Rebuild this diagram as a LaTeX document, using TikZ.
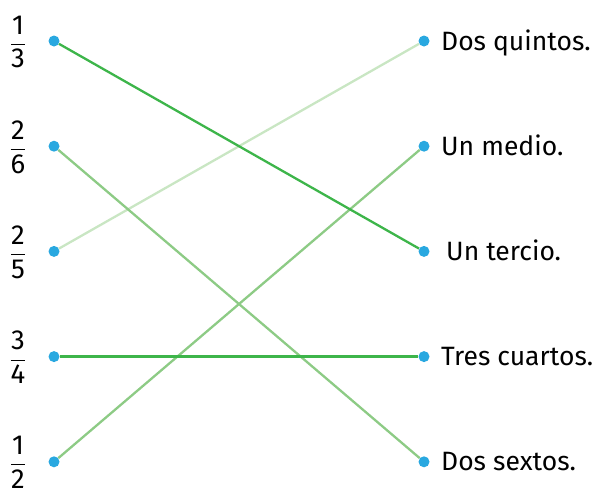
\documentclass[tikz,border=0pt]{standalone}
\usepackage{amsmath}
\usepackage{fontspec}
\setmainfont{Fira Sans}
\usetikzlibrary{positioning}

\definecolor{dotblue}{HTML}{29A8E0}
\definecolor{darkgreen}{HTML}{3DB54A}
\definecolor{midgreen}{HTML}{8DCB85}
\definecolor{palegreen}{HTML}{C9E6C3}

\tikzset{
  dot/.style={circle, fill=dotblue, inner sep=0pt, minimum size=11pt},
  frac/.style={font=\fontsize{27.5}{32}\selectfont, inner sep=0pt},
  answer/.style={font=\fontsize{26.5}{31}\selectfont, inner sep=0pt, anchor=base west},
  match/.style={line width=2.3pt}
}

\begin{document}
\begin{tikzpicture}[x=1pt, y=-1pt]
  % Define dimensions
  \def\xl{54}
  \def\xr{424}
  \def\dy{105.2}
  \useasboundingbox (0,0) rectangle (599,491);

  % Define points
  \foreach \i in {1,...,5} {
      \node[dot] (l\i) at (\xl, 41+\dy*\i-\dy) {};
      \node[dot] (r\i) at (\xr, 41+\dy*\i-\dy) {};
  }

  % Label points
  \node[frac] (f1) at (18, 42) {$\dfrac{\textrm{1}}{\textrm{3}}$};
  \node[frac] (f2) at (18, 147) {$\dfrac{\textrm{2}}{\textrm{6}}$};
  \node[frac] (f3) at (18, 252) {$\dfrac{\textrm{2}}{\textrm{5}}$};
  \node[frac] (f4) at (18, 357) {$\dfrac{\textrm{3}}{\textrm{4}}$};
  \node[frac] (f5) at (18, 462) {$\dfrac{\textrm{1}}{\textrm{2}}$};

  \node[answer] (a1) at ([xshift=17pt, yshift=-9pt]r1.center) {Dos quintos.};
  \node[answer] (a2) at ([xshift=17pt, yshift=-9pt]r2.center) {Un medio.};
  \node[answer] (a3) at ([xshift=22pt, yshift=-9pt]r3.center) {Un tercio.};
  \node[answer] (a4) at ([xshift=17pt, yshift=-9pt]r4.center) {Tres cuartos.};
  \node[answer] (a5) at ([xshift=17pt, yshift=-9pt]r5.center) {Dos sextos.};

  % Draw matches
  \draw[match, palegreen] (l3) -- (r1);
  \draw[match, midgreen] (l2) -- (r5);
  \draw[match, midgreen] (l5) -- (r2);
  \draw[match, darkgreen] (l1) -- (r3);
  \draw[match, darkgreen] (l4) -- (r4);

\end{tikzpicture}
\end{document}
